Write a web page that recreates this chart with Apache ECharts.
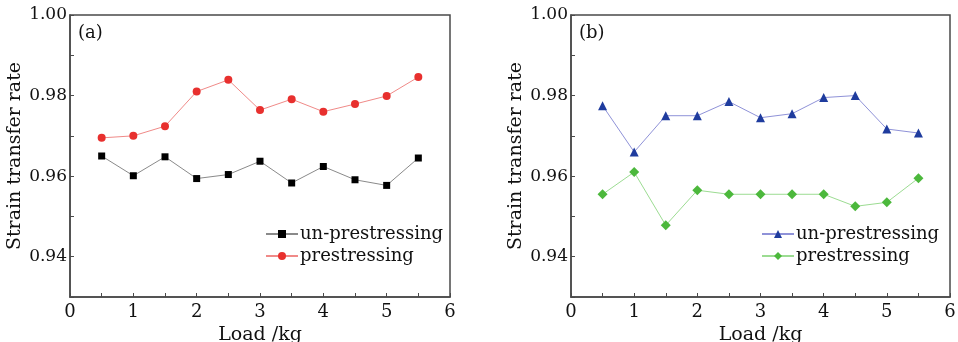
<!DOCTYPE html>
<html>
<head>
<meta charset="utf-8">
<script src="https://cdn.jsdelivr.net/npm/echarts@6/dist/echarts.min.js"></script>
<style>
  html, body { margin: 0; padding: 0; background: #fff; }
  #chart { width: 958px; height: 342px; }
</style>
</head>
<body>
<div id="chart"></div>
<script>
// load steps (kg)
const loads = [0.5, 1, 1.5, 2, 2.5, 3, 3.5, 4, 4.5, 5, 5.5];

// panel (a)
const aUnPre = [0.965, 0.9601, 0.9648, 0.9594, 0.9604, 0.9637, 0.9583, 0.9624, 0.9591, 0.9577, 0.9645];
const aPre = [0.9695, 0.970, 0.9724, 0.981, 0.9839, 0.9764, 0.9791, 0.976, 0.9779, 0.9799, 0.9846];

// panel (b)
const bUnPre = [0.9775, 0.966, 0.975, 0.975, 0.9785, 0.9745, 0.9755, 0.9795, 0.980, 0.9717, 0.9707];
const bPre = [0.9555, 0.961, 0.9478, 0.9565, 0.9555, 0.9555, 0.9555, 0.9555, 0.9525, 0.9535, 0.9595];

const yTicks = ['0.94', '0.96', '0.98', '1.00'];
const panelLabels = ['(a)', '(b)'];

const font = "'DejaVu Serif', serif";
const axisColor = '#4a4a4a';

const pair = arr => arr.map((v, i) => [loads[i], v]);

function makeX(idx) {
  return {
    gridIndex: idx,
    type: 'value',
    min: 0, max: 6, interval: 0.5,
    name: 'Load /kg',
    nameLocation: 'middle',
    nameGap: 24,
    nameTextStyle: { fontFamily: font, fontSize: 19, color: '#111', verticalAlign: 'top' },
    axisLine: { show: true, lineStyle: { color: axisColor, width: 1.5 } },
    axisTick: { show: true, inside: true, length: 4, lineStyle: { color: axisColor } },
    axisLabel: {
      fontFamily: font, fontSize: 18, color: '#111', margin: 6,
      formatter: v => (Math.abs(v - Math.round(v)) < 1e-6 ? String(Math.round(v)) : '')
    },
    splitLine: { show: false }
  };
}

function makeY(idx) {
  return {
    gridIndex: idx,
    type: 'value',
    min: 0.93, max: 1.0, interval: 0.01,
    name: 'Strain transfer rate',
    nameLocation: 'middle',
    nameGap: 45,
    nameTextStyle: { fontFamily: font, fontSize: 19, color: '#111' },
    axisLine: { show: true, lineStyle: { color: axisColor, width: 1.5 } },
    axisTick: { show: true, inside: true, length: 4, lineStyle: { color: axisColor } },
    axisLabel: {
      fontFamily: font, fontSize: 17, color: '#111', margin: 3,
      formatter: v => {
        const s = v.toFixed(2);
        return yTicks.includes(s) ? s : '';
      }
    },
    splitLine: { show: false }
  };
}

function makeSeries(name, data, idx, symbol, size, markColor, lineColor) {
  return {
    name: name,
    type: 'line',
    xAxisIndex: idx,
    yAxisIndex: idx,
    data: pair(data),
    symbol: symbol,
    symbolSize: size,
    showAllSymbol: true,
    itemStyle: { color: markColor },
    lineStyle: { color: lineColor, width: 1 },
    animation: false
  };
}

const chart = echarts.init(document.getElementById('chart'));

const option = {
  backgroundColor: '#fff',
  animation: false,
  title: panelLabels.map((t, i) => ({
    text: t,
    left: i === 0 ? 73 : 574,
    top: 19,
    textStyle: { fontFamily: font, fontSize: 18, fontWeight: 'normal', color: '#111' }
  })),
  grid: [
    { left: 70, right: 508, top: 15, bottom: 45, outerBoundsMode: 'none', show: true, borderColor: axisColor, borderWidth: 1.5 },
    { left: 571, right: 8, top: 15, bottom: 45, outerBoundsMode: 'none', show: true, borderColor: axisColor, borderWidth: 1.5 }
  ],
  xAxis: [makeX(0), makeX(1)],
  yAxis: [makeY(0), makeY(1)],
  legend: [
    {
      data: ['un-prestressing (a)', 'prestressing (a)'],
      orient: 'vertical',
      left: 265, top: 223,
      itemWidth: 32, itemHeight: 10, itemGap: 0, padding: 0,
      formatter: n => n.replace(/ \(.\)$/, ''),
      textStyle: { fontFamily: font, fontSize: 18, lineHeight: 22, color: '#111', padding: [0, 0, 0, -3] }
    },
    {
      data: ['un-prestressing (b)', 'prestressing (b)'],
      orient: 'vertical',
      left: 761, top: 223,
      itemWidth: 32, itemHeight: 10, itemGap: 0, padding: 0,
      formatter: n => n.replace(/ \(.\)$/, ''),
      textStyle: { fontFamily: font, fontSize: 18, lineHeight: 22, color: '#111', padding: [0, 0, 0, -3] }
    }
  ],
  series: [
    makeSeries('un-prestressing (a)', aUnPre, 0, 'rect', 7, '#000000', '#8a8a8a'),
    makeSeries('prestressing (a)', aPre, 0, 'circle', 8, '#e8302e', '#f08a88'),
    makeSeries('un-prestressing (b)', bUnPre, 1, 'triangle', 9, '#1f3c9e', '#8f92d8'),
    makeSeries('prestressing (b)', bPre, 1, 'diamond', 10, '#4cb83c', '#9cdc92')
  ]
};

chart.setOption(option);
</script>
</body>
</html>
